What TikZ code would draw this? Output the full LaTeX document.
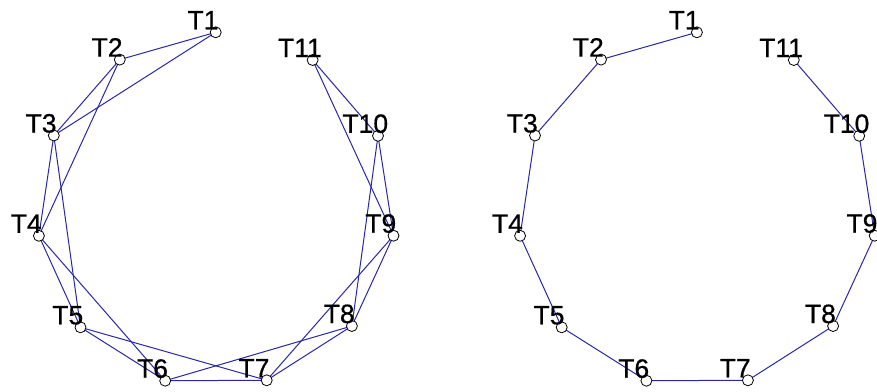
\documentclass[tikz,border=0pt]{standalone}
\usepackage{fontspec}
\setmainfont{Liberation Sans}[FakeBold=0.6]
\usetikzlibrary{calc}
\definecolor{edgeblue}{RGB}{40,40,168}
\begin{document}
\begin{tikzpicture}[x=1pt,y=-1pt,
  vertex/.style={circle,draw=black,fill=white,line width=0.8pt,inner sep=0pt,minimum size=11pt},
  edge/.style={draw=edgeblue,line width=1pt},
  tag/.style={anchor=base,inner sep=0pt,font=\fontsize{26.5}{30}\selectfont}]
\useasboundingbox[fill=white] (0,0) rectangle (877,391);

% vertex positions of the ring; the right copy is shifted sideways
\foreach \n/\x/\y in {1/215.7/32.3, 2/119.8/59.6, 3/53.8/135.5, 4/38.9/235.8,
                      5/80.5/327.3, 6/165.2/380.7, 7/266.7/380.3, 8/351.9/326,
                      9/393.5/235.7, 10/378/135.8, 11/312.6/60} {
  \coordinate (L\n) at (\x,\y);
  \coordinate (R\n) at (\x+481.2,\y);
}

% left: each vertex joined to its next and next-but-one neighbour
\foreach \i in {1,...,10} {
  \pgfmathtruncatemacro{\j}{\i+1}
  \draw[edge] (L\i) -- (L\j);
  \draw[edge] (R\i) -- (R\j);
}
\foreach \i in {1,...,9} {
  \pgfmathtruncatemacro{\k}{\i+2}
  \draw[edge] (L\i) -- (L\k);
}

% vertex markers and labels
\foreach \n in {1,...,11} {
  \node[vertex] (vL\n) at (L\n) {};
  \node[vertex] (vR\n) at (R\n) {};
  \node[tag] (tL\n) at ($(L\n)+(-12.7,-3)$) {T\n};
  \node[tag] (tR\n) at ($(R\n)+(-12.7,-3)$) {T\n};
}
\end{tikzpicture}
\end{document}
